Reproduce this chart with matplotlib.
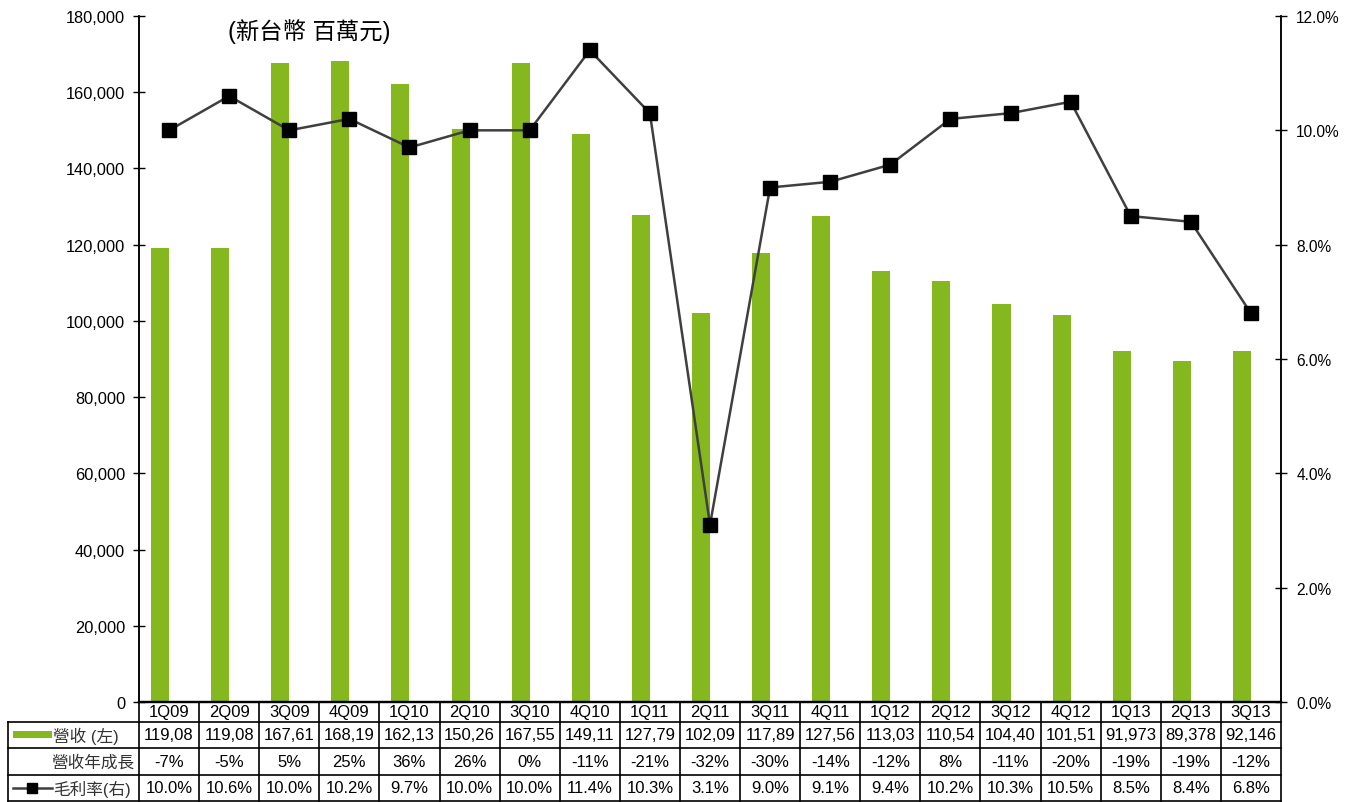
import matplotlib
matplotlib.use('Agg')
import matplotlib.pyplot as plt
from matplotlib.ticker import FuncFormatter, MultipleLocator
import numpy as np

plt.rcParams['font.family'] = ['Liberation Sans', 'Noto Sans CJK TC']

# data
quarters = ['1Q09', '2Q09', '3Q09', '4Q09', '1Q10', '2Q10', '3Q10', '4Q10', '1Q11', '2Q11',
            '3Q11', '4Q11', '1Q12', '2Q12', '3Q12', '4Q12', '1Q13', '2Q13', '3Q13']
revenue = [119080, 119080, 167610, 168190, 162130, 150260, 167550, 149110, 127790, 102090,
           117890, 127560, 113030, 110540, 104400, 101510, 91973, 89378, 92146]
revenue_labels = ['119,08', '119,08', '167,61', '168,19', '162,13', '150,26', '167,55', '149,11',
                  '127,79', '102,09', '117,89', '127,56', '113,03', '110,54', '104,40', '101,51',
                  '91,973', '89,378', '92,146']
growth = ['-7%', '-5%', '5%', '25%', '36%', '26%', '0%', '-11%', '-21%', '-32%',
          '-30%', '-14%', '-12%', '8%', '-11%', '-20%', '-19%', '-19%', '-12%']
margin = [10.0, 10.6, 10.0, 10.2, 9.7, 10.0, 10.0, 11.4, 10.3, 3.1,
          9.0, 9.1, 9.4, 10.2, 10.3, 10.5, 8.5, 8.4, 6.8]

GREEN = '#84b81e'
LINE = '#3f3f3f'
W, H = 1346, 803
FS = 12

fig = plt.figure(figsize=(W / 100, H / 100), dpi=100)
# plot area in pixels: x 139..1281, y 17..703
ax = fig.add_axes([139 / W, (H - 703) / H, (1281 - 139) / W, (703 - 17) / H])
ax2 = ax.twinx()

x = np.arange(len(quarters))
ax.bar(x - 0.3, revenue, width=0.3, align='edge', color=GREEN, zorder=2)
ax.set_xlim(-0.5, len(quarters) - 0.5)
ax.set_ylim(0, 180000)
ax.yaxis.set_major_locator(MultipleLocator(20000))
ax.yaxis.set_major_formatter(FuncFormatter(lambda v, p: f'{int(v):,}'))
ax.set_xticks([])

ax2.plot(x, margin, color=LINE, lw=1.8, marker='s', markersize=10.5,
         markerfacecolor='black', markeredgecolor='black', zorder=3)
ax2.set_ylim(0, 12)
ax2.yaxis.set_major_locator(MultipleLocator(2))
ax2.yaxis.set_major_formatter(FuncFormatter(lambda v, p: f'{v:.1f}%'))

for a in (ax, ax2):
    a.spines['top'].set_visible(False)
    a.spines['left'].set_linewidth(1.1)
    a.spines['right'].set_linewidth(1.1)
    a.spines['bottom'].set_linewidth(1.6)
    a.tick_params(axis='y', direction='inout', length=8, width=1, labelsize=11.8)
ax.tick_params(axis='y', pad=6)
ax2.tick_params(axis='y', pad=7, labelsize=11.2)

fig.text(309 / W, 1 - 32 / H, '(新台幣 百萬元)', fontsize=16.8, ha='center', va='center')

# data table under the plot
trans = ax.get_xaxis_transform()
axh = 703 - 17


def ypx(p):
    return (703 - p) / axh


def xpx(p):
    return (p - 139) / 60 - 0.5


rows = [703, 723, 749, 776, 802]
left_edge = xpx(8)
n = len(quarters)
kw = dict(transform=trans, clip_on=False, color='black', lw=1.2)
for r in rows[1:]:
    ax.plot([left_edge, n - 0.5], [ypx(r), ypx(r)], **kw)
ax.plot([left_edge, left_edge], [ypx(rows[1]), ypx(rows[-1])], **kw)
for b in np.arange(-0.5, n, 1.0):
    ax.plot([b, b], [ypx(rows[0]), ypx(rows[-1])], **kw)

centers = [(rows[k] + rows[k + 1]) / 2 for k in range(4)]
for i in range(n):
    ax.text(i, ypx(centers[0]), quarters[i], transform=trans, ha='center', va='center', fontsize=FS)
    ax.text(i, ypx(centers[1]), revenue_labels[i], transform=trans, ha='center', va='center', fontsize=FS)
    ax.text(i, ypx(centers[2]), growth[i], transform=trans, ha='center', va='center', fontsize=FS)
    ax.text(i, ypx(centers[3]), f'{margin[i]:.1f}%', transform=trans, ha='center', va='center', fontsize=FS)

# row headers
ax.fill_between([xpx(13), xpx(52)], ypx(732), ypx(739), transform=trans, color=GREEN,
                clip_on=False, lw=0)
ax.text(xpx(53), ypx(centers[1]), '營收 (左)', transform=trans, ha='left', va='center',
        fontsize=FS, color='#333333')
ax.text(xpx(134), ypx(centers[2]), '營收年成長', transform=trans, ha='right', va='center',
        fontsize=FS, color='#333333')
ax.plot([xpx(13), xpx(52)], [ypx(centers[3]), ypx(centers[3])], transform=trans, clip_on=False,
        color=LINE, lw=1.8)
ax.plot([xpx(32.5)], [ypx(centers[3])], transform=trans, clip_on=False, marker='s',
        markersize=7, color='black')
ax.text(xpx(53), ypx(centers[3]), '毛利率(右)', transform=trans, ha='left', va='center',
        fontsize=FS, color='#333333')

ax.set_xlim(-0.5, n - 0.5)
ax.set_ylim(0, 180000)

fig.savefig('out.png', dpi=100)
